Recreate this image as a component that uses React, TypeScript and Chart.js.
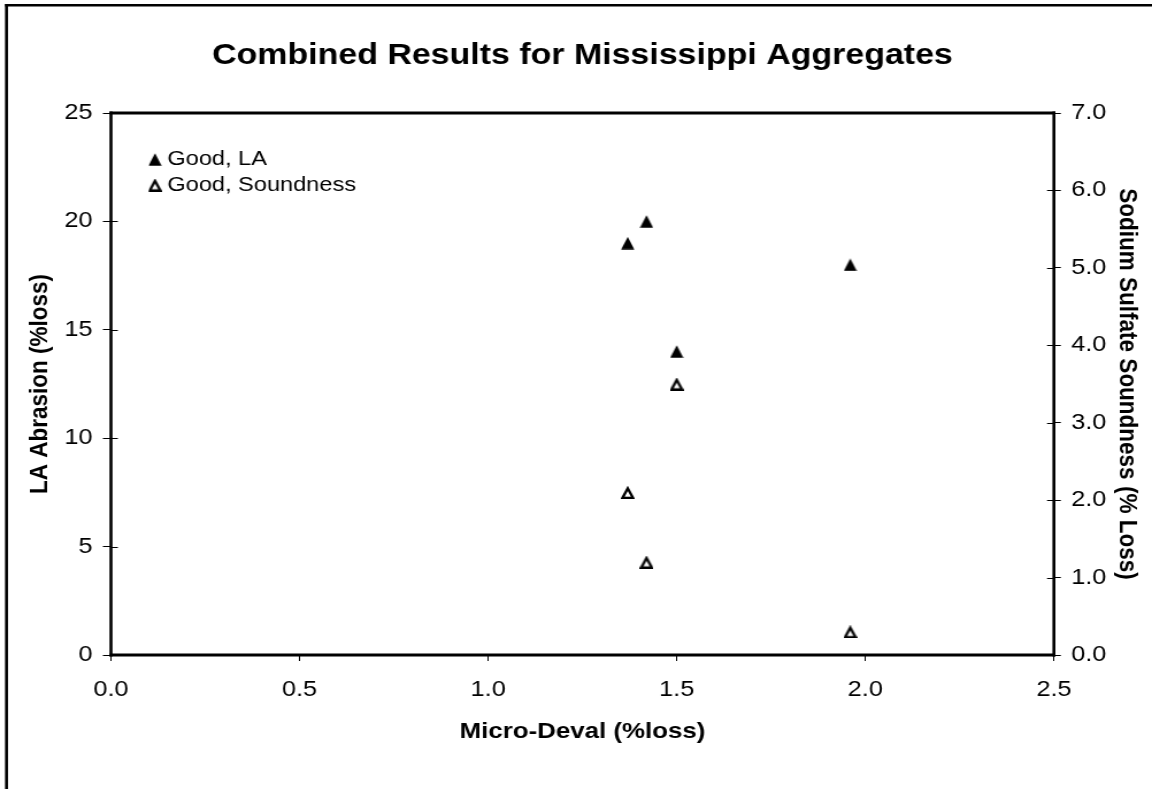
import React, { useEffect, useRef } from "react";
import { Chart, registerables } from "chart.js";

Chart.register(...registerables);

// ---- data ----
const microDeval = [1.37, 1.42, 1.5, 1.96];
const laAbrasion = [19, 20, 14, 18];
const sulfateSoundness = [2.1, 1.2, 3.5, 0.3];
const seriesLabels = ["Good, LA", "Good, Soundness"];
const chartTitle = "Combined Results for Mississippi Aggregates";
const xAxisTitle = "Micro-Deval (%loss)";
const yLeftTitle = "LA Abrasion (%loss)";
const yRightTitle = "Sodium Sulfate Soundness (% Loss)";
const xRange = [0, 2.5, 0.5];
const yLeftRange = [0, 25, 5];
const yRightRange = [0, 7, 1];

// ---- layout (canvas is drawn narrower, then stretched horizontally) ----
const CW = 1002;
const CH = 789;
const STRETCH = 1152 / CW;
const FONT = "'Liberation Sans', Arial, sans-serif";

function makeTriangle(filled: boolean): HTMLCanvasElement {
  const c = document.createElement("canvas");
  c.width = 12;
  c.height = 13;
  const ctx = c.getContext("2d")!;
  ctx.beginPath();
  if (filled) {
    ctx.moveTo(6, 0.3);
    ctx.lineTo(11.7, 12.8);
    ctx.lineTo(0.3, 12.8);
  } else {
    ctx.moveTo(6, 2.4);
    ctx.lineTo(10.5, 11.8);
    ctx.lineTo(1.5, 11.8);
  }
  ctx.closePath();
  if (filled) {
    ctx.fillStyle = "#000";
    ctx.fill();
  } else {
    ctx.fillStyle = "#fff";
    ctx.fill();
    ctx.lineWidth = 2.3;
    ctx.strokeStyle = "#000";
    ctx.stroke();
  }
  return c;
}

const framePlugin = {
  id: "framePlugin",
  beforeDraw(chart: any) {
    const ctx = chart.ctx;
    ctx.save();
    ctx.fillStyle = "#fff";
    ctx.fillRect(0, 0, chart.width, chart.height);
    ctx.fillStyle = "#000";
    ctx.fillRect(4.35, 4, 2.6, chart.height);
    ctx.fillRect(4.35, 4, chart.width, 2.5);
    ctx.restore();
  },
  afterDraw(chart: any) {
    const ctx = chart.ctx;
    const a = chart.chartArea;
    ctx.save();
    // inner halves of the crossing tick marks on both value axes
    ctx.strokeStyle = "#000";
    ctx.lineWidth = 1;
    ["y", "y2"].forEach((id) => {
      const s = chart.scales[id];
      const x0 = id === "y" ? a.left : a.right;
      const dir = id === "y" ? 1 : -1;
      s.ticks.forEach((_t: any, i: number) => {
        const py = Math.round(s.getPixelForTick(i)) + 0.5;
        ctx.beginPath();
        ctx.moveTo(x0, py);
        ctx.lineTo(x0 + dir * 6, py);
        ctx.stroke();
      });
    });
    // plot area border
    ctx.fillStyle = "#000";
    const w = a.right - a.left;
    const h = a.bottom - a.top;
    ctx.fillRect(a.left - 1.3, a.top - 1.5, w + 2.6, 3);
    ctx.fillRect(a.left - 1.3, a.bottom - 1.5, w + 2.6, 3);
    ctx.fillRect(a.left - 1.3, a.top - 1.5, 2.6, h + 3);
    ctx.fillRect(a.right - 1.3, a.top - 1.5, 2.6, h + 3);
    ctx.restore();
  },
};

const legendPlacer = {
  id: "legendPlacer",
  afterLayout(chart: any) {
    const lg = chart.legend;
    const a = chart.chartArea;
    if (!lg) return;
    const w = lg.width;
    const h = lg.height;
    lg.left = 129.3;
    lg.top = 144.25;
    lg.right = lg.left + Math.max(w, 300);
    lg.bottom = Math.min(a.bottom, lg.top + Math.max(h, 80));
  },
};

export default function App() {
  const ref = useRef<HTMLCanvasElement>(null);

  useEffect(() => {
    const canvas = ref.current!;
    const filledTri = makeTriangle(true);
    const openTri = makeTriangle(false);

    const chart = new Chart(canvas, {
      type: "scatter",
      data: {
        datasets: [
          {
            label: seriesLabels[0],
            data: microDeval.map((x, i) => ({ x, y: laAbrasion[i] })),
            yAxisID: "y",
            pointStyle: filledTri as any,
            pointRadius: 7,
            backgroundColor: "#000",
            borderColor: "#000",
            borderWidth: 1,
            showLine: false,
          },
          {
            label: seriesLabels[1],
            data: microDeval.map((x, i) => ({ x, y: sulfateSoundness[i] })),
            yAxisID: "y2",
            pointStyle: openTri as any,
            pointRadius: 7,
            backgroundColor: "#fff",
            borderColor: "#000",
            borderWidth: 1,
            showLine: false,
          },
        ],
      },
      options: {
        responsive: false,
        animation: false,
        devicePixelRatio: 1,
        events: [],
        layout: { padding: 0 },
        plugins: {
          tooltip: { enabled: false },
          title: {
            display: true,
            text: chartTitle,
            fullSize: false,
            color: "#000",
            font: { family: FONT, size: 29.5, weight: "bold", lineHeight: 1.2 },
            padding: { top: 38.3, bottom: 39.3 },
          },
          legend: {
            display: true,
            position: "chartArea" as any,
            align: "start",
            labels: {
              usePointStyle: true,
              boxWidth: 1,
              boxHeight: 9,
              padding: 5,
              color: "#000",
              font: { family: FONT, size: 20.5 },
            },
          },
        },
        scales: {
          x: {
            type: "linear",
            position: "bottom",
            min: xRange[0],
            max: xRange[1],
            ticks: {
              stepSize: xRange[2],
              callback: (v: any) => Number(v).toFixed(1),
              color: "#000",
              font: { family: FONT, size: 22 },
              padding: 15.6,
              maxRotation: 0,
            },
            grid: {
              display: true,
              drawOnChartArea: false,
              drawTicks: true,
              tickLength: 6,
              color: "#000",
              lineWidth: 1,
            },
            border: { display: false },
            title: {
              display: true,
              text: xAxisTitle,
              color: "#000",
              font: { family: FONT, size: 22.5, weight: "bold" },
              padding: { top: 0, bottom: 43.5 },
            },
            afterFit: (s: any) => {
              s.height = 134;
            },
          },
          y: {
            type: "linear",
            position: "left",
            min: yLeftRange[0],
            max: yLeftRange[1],
            ticks: {
              stepSize: yLeftRange[2],
              callback: (v: any) => String(Math.round(Number(v))),
              color: "#000",
              font: { family: FONT, size: 22 },
              padding: 9,
            },
            grid: {
              display: true,
              drawOnChartArea: false,
              drawTicks: true,
              tickLength: 7,
              color: "#000",
              lineWidth: 1,
            },
            border: { display: false },
            title: {
              display: true,
              text: yLeftTitle,
              color: "#000",
              font: { family: FONT, size: 22.5, weight: "bold" },
              padding: { top: 20.9, bottom: 0 },
            },
            afterFit: (s: any) => {
              s.width = 96.5;
            },
          },
          y2: {
            type: "linear",
            position: "right",
            min: yRightRange[0],
            max: yRightRange[1],
            ticks: {
              stepSize: yRightRange[2],
              callback: (v: any) => Number(v).toFixed(1),
              color: "#000",
              font: { family: FONT, size: 22 },
              padding: 9,
            },
            grid: {
              display: true,
              drawOnChartArea: false,
              drawTicks: true,
              tickLength: 6,
              color: "#000",
              lineWidth: 1,
            },
            border: { display: false },
            title: {
              display: true,
              text: yRightTitle,
              color: "#000",
              font: { family: FONT, size: 22.5, weight: "bold" },
              padding: { top: 8.2, bottom: 0 },
            },
            afterFit: (s: any) => {
              s.width = CW - 916.7;
            },
          },
        },
      } as any,
      plugins: [framePlugin, legendPlacer],
    });

    return () => chart.destroy();
  }, []);

  return (
    <div
      style={{
        position: "absolute",
        left: 0,
        top: 0,
        width: 1152,
        height: 789,
        overflow: "hidden",
        background: "#fff",
      }}
    >
      <canvas
        ref={ref}
        width={CW}
        height={CH}
        style={{
          display: "block",
          transform: `scaleX(${STRETCH})`,
          transformOrigin: "0 0",
        }}
      />
    </div>
  );
}
